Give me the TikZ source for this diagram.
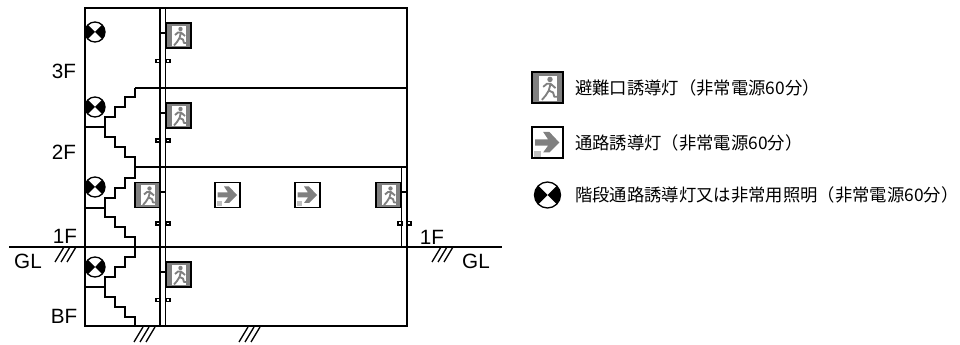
\documentclass[tikz,border=0pt]{standalone}
\usepackage{fontspec}
\setmainfont{Liberation Sans}
\newfontfamily\jpfont{Noto Sans CJK JP}
\usepackage{tikz}
\tikzset{
  wall/.style={line width=1.6pt,line join=miter},
  thin wall/.style={line width=1.1pt},
  hatch/.style={line width=1pt},
  small box/.style={line width=1.1pt,fill=white},
  flip/.style={yscale=-1},
  floor label/.style={inner sep=0pt,font=\fontsize{15.5}{15.5}\selectfont},
  legend label/.style={anchor=west,inner sep=0pt,font=\jpfont\fontsize{13}{13}\selectfont},
  exit sign/.pic={
    \fill [gray] (0,0) rectangle (25,25);
    \fill [white] (6,3) rectangle (20,23);
    \fill [gray] (14.5,6) circle (2.2);
    \draw [gray,line width=1.4pt,line join=round] (9,12) -- (12,9.5) -- (15,9.5) -- (19,13) (15,9.5) -- (13.5,15) -- (17,16.5) -- (18,20) -- (21,20) (13.5,15) -- (11,19) -- (8,22.5);
    \draw [black,line width=1.4pt] (0,0) rectangle (25,25);
  },
  arrow sign/.pic={
    \fill [white] (0,0) rectangle (25,25);
    \fill [gray] (2.5,10) -- (13,10) -- (9,4) -- (14,4) -- (22,12.5) -- (14,20.5) -- (9,20.5) -- (13,15) -- (2.5,15) -- cycle;
    \fill [gray!50] (2,19) rectangle (7,24);
    \draw [black,line width=1.4pt] (0,0) rectangle (25,25);
  },
  lamp/.pic={
    \fill [white] (0,0) circle (10);
    \fill [black] (0,0) -- (-7.07,-7.07) arc (225:135:10) -- cycle;
    \fill [black] (0,0) -- (7.07,-7.07) arc (-45:45:10) -- cycle;
    \draw [line width=1pt] (0,0) circle (10);
  }
}
\begin{document}
\begin{tikzpicture}[x=0.75pt,y=0.75pt,yscale=-1,xscale=1]
  \useasboundingbox (0,0) rectangle (960,345);

  %building outline and ground
  \coordinate (topleft) at (85,8);
  \coordinate (topright) at (407,8);
  \coordinate (botright) at (407,326);
  \coordinate (botleft) at (85,326);
  \coordinate (glleft) at (9,247);
  \coordinate (glright) at (502,247);
  \draw [wall] (topleft) -- (topright) -- (botright) -- (botleft) -- cycle;
  \draw [wall] (glleft) -- (glright);
  \draw [thin wall] (135,88) -- (407,88);
  \draw [thin wall] (135,167) -- (407,167);

  %shafts
  \draw [thin wall] (160,8) -- (160,326);
  \draw [thin wall] (165.5,8) -- (165.5,326);
  \draw [thin wall] (401.5,167) -- (401.5,247);

  %stairs
  \draw [wall] (85,127) -- (105,127) -- (105,117) -- (115,117) -- (115,107) -- (125,107) -- (125,97) -- (135,97) -- (135,88);
  \draw [wall] (105,127) -- (105,137) -- (115,137) -- (115,147) -- (125,147) -- (125,157) -- (135,157) -- (135,167);
  \draw [wall] (85,208) -- (105,208) -- (105,198) -- (115,198) -- (115,188) -- (125,188) -- (125,178) -- (135,178) -- (135,167);
  \draw [wall] (105,208) -- (105,217) -- (115,217) -- (115,227) -- (125,227) -- (125,237) -- (135,237) -- (135,247);
  \draw [wall] (85,287) -- (105,287) -- (105,277) -- (115,277) -- (115,267) -- (125,267) -- (125,257) -- (135,257) -- (135,247);
  \draw [wall] (105,287) -- (105,297) -- (115,297) -- (115,307) -- (125,307) -- (125,317) -- (135,317) -- (135,326);

  %ticks
  \draw [thin wall] (160,33) -- (166,33);
  \draw [thin wall] (160,113) -- (166,113);
  \draw [thin wall] (160,192) -- (165.5,192);
  \draw [thin wall] (160,272) -- (166,272);
  \draw [thin wall] (401.5,192) -- (407,192);

  %small boxes
  \foreach \yy in {61,140.5,223.5,300} {
    \draw [small box] (156,\yy-1.7) rectangle (159.5,\yy+1.7);
    \draw [small box] (166.5,\yy-1.7) rectangle (170,\yy+1.7);
  }
  \draw [small box] (398,221.5) rectangle (402,225);
  \draw [small box] (407,221.5) rectangle (411,225);

  %hatches
  \foreach \xx/\yy in {55/262,134/342,239/342,432/262} {
    \foreach \dd in {0,6,12}
      \draw [hatch] (\xx+\dd,\yy) -- (\xx+\dd+9,\yy-15);
  }

  %signs
  \path (166,23) pic [flip] {exit sign};
  \path (166,103) pic [flip] {exit sign};
  \path (135,182.5) pic [flip] {exit sign};
  \path (215,182.5) pic [flip] {arrow sign};
  \path (295,182.5) pic [flip] {arrow sign};
  \path (376,182.5) pic [flip] {exit sign};
  \path (166,262) pic [flip] {exit sign};
  \path (95,32) pic {lamp};
  \path (95,107) pic {lamp};
  \path (95,187) pic {lamp};
  \path (95,267) pic {lamp};

  %floors
  \node [floor label] (f3) at (64,71) {3F};
  \node [floor label] (f2) at (64,152) {2F};
  \node [floor label] (f1) at (65,236) {1F};
  \node [floor label] (gl) at (28,261) {GL};
  \node [floor label] (bf) at (64,316) {BF};
  \node [floor label] (f1r) at (432,237) {1F};
  \node [floor label] (glr) at (476,261) {GL};

  %legend
  \path (532,72) pic [flip,scale=1.24] {exit sign};
  \path (532,127) pic [flip,scale=1.24] {arrow sign};
  \path (547.5,195) pic [scale=1.3] {lamp};
  \node [legend label] (exitlabel) at (575,88) {避難口誘導灯（非常電源60分）};
  \node [legend label] (arrowlabel) at (575,143) {通路誘導灯（非常電源60分）};
  \node [legend label] (lamplabel) at (575,195) {階段通路誘導灯又は非常用照明（非常電源60分）};
\end{tikzpicture}
\end{document}
